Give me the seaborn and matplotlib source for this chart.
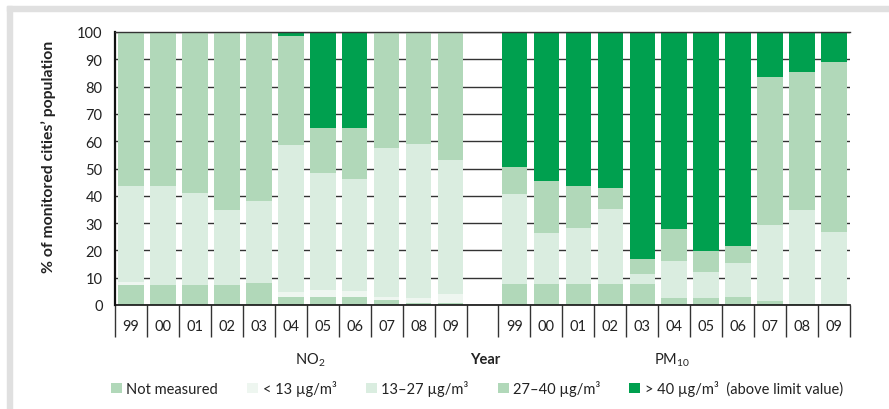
import numpy as np
import pandas as pd
import matplotlib
matplotlib.use("Agg")
import matplotlib.pyplot as plt
import seaborn as sns
from matplotlib.patches import Rectangle, Patch

# ---------------- data ----------------
years = ["99", "00", "01", "02", "03", "04", "05", "06", "07", "08", "09"]
layer_names = ["Not measured", "< 13 µg/m³", "13–27 µg/m³", "27–40 µg/m³",
               "> 40 µg/m³  (above limit value)"]
layer_colors = ["#b1d8b9", "#eef6f0", "#daede0", "#b1d8b9", "#00a04f"]

no2_not_measured = [7.5, 7.5, 7.5, 7.5, 8.0, 2.9, 3.1, 3.1, 1.8, 0.7, 0.7]
no2_lt13 = [1.0, 0.0, 0.0, 0.0, 0.0, 1.9, 2.5, 2.1, 1.2, 1.9, 3.3]
no2_13_27 = [35.0, 36.0, 33.5, 27.3, 30.0, 53.9, 42.9, 41.0, 54.5, 56.4, 49.1]
no2_27_40 = [56.5, 56.5, 59.0, 65.2, 62.0, 39.7, 16.2, 18.5, 42.5, 41.0, 46.9]
no2_gt40 = [0.0, 0.0, 0.0, 0.0, 0.0, 1.6, 35.3, 35.3, 0.0, 0.0, 0.0]

pm10_not_measured = [7.6, 7.6, 7.6, 7.8, 7.8, 2.6, 2.6, 2.9, 1.3, 0.4, 0.2]
pm10_lt13 = [0.0, 0.0, 0.0, 0.0, 0.0, 0.0, 0.0, 0.0, 0.0, 0.0, 0.0]
pm10_13_27 = [32.9, 18.9, 20.7, 27.5, 3.6, 13.4, 9.6, 12.5, 27.9, 34.5, 26.7]
pm10_27_40 = [10.0, 18.9, 15.2, 7.6, 5.4, 11.7, 7.5, 6.1, 54.4, 50.6, 62.1]
pm10_gt40 = [49.5, 54.6, 56.5, 57.1, 83.2, 72.3, 80.3, 78.5, 16.4, 14.5, 11.0]

# ---------------- style ----------------
sns.set_theme(style="white")
plt.rcParams["font.family"] = ["Lato", "DejaVu Sans"]
plt.rcParams["mathtext.fontset"] = "custom"
plt.rcParams["mathtext.rm"] = "Lato"
plt.rcParams["mathtext.it"] = "Lato:italic"
plt.rcParams["mathtext.bf"] = "Lato:bold"
txt = "#222222"

fig = plt.figure(figsize=(8.89, 4.10), dpi=100)
ax = fig.add_axes([115 / 889, 1 - 306 / 410, (850 - 115) / 889, (306 - 33) / 410])

no2_cats = [f"NO2 {y}" for y in years]
pm_cats = [f"PM10 {y}" for y in years]
order = no2_cats + ["gap"] + pm_cats
cats = no2_cats + pm_cats

layers = np.array([
    no2_not_measured + pm10_not_measured,
    no2_lt13 + pm10_lt13,
    no2_13_27 + pm10_13_27,
    no2_27_40 + pm10_27_40,
    no2_gt40 + pm10_gt40,
])
cum = np.cumsum(layers, axis=0)

# draw cumulative totals from top layer downward (stacked look)
for k in reversed(range(len(layer_names))):
    df = pd.DataFrame({"cat": cats, "val": cum[k]})
    sns.barplot(data=df, x="cat", y="val", order=order, color=layer_colors[k],
                saturation=1, width=0.8, linewidth=0, edgecolor="none", ax=ax,
                zorder=2)

ax.set_xlim(-0.5, 22.5)
ax.set_ylim(0, 100)
ax.set_yticks(range(0, 101, 10))
ax.yaxis.grid(True, color="#333333", linewidth=1.0, zorder=0)
ax.xaxis.grid(False)
ax.set_axisbelow(True)

ax.spines["right"].set_visible(False)
ax.spines["left"].set_color("#111111")
ax.spines["left"].set_linewidth(1.6)
ax.spines["bottom"].set_color("#111111")
ax.spines["bottom"].set_linewidth(1.2)
ax.spines["top"].set_color("#333333")
ax.spines["top"].set_linewidth(1.0)

ax.set_xticks(range(23))
ax.set_xticklabels(years + [""] + years, fontsize=10.5, color=txt)
ax.tick_params(axis="x", which="major", length=0, pad=10)
ax.set_xticks(np.arange(-0.5, 23, 1), minor=True)
ax.tick_params(axis="x", which="minor", length=23, width=1.0, color="#333333",
               direction="out", bottom=True)
ax.tick_params(axis="y", length=0, pad=9, labelsize=10.5, labelcolor=txt)

ax.set_xlabel("")
ax.set_ylabel("% of monitored cities’ population", fontsize=11.3,
              fontweight="bold", color=txt)
ax.yaxis.set_label_coords(-(115 - 56) / (850 - 115), 0.545)

# group labels
fig.text(310 / 889, 1 - 360 / 410, "NO$_2$", ha="center", va="center",
         fontsize=10.5, color=txt)
fig.text(485 / 889, 1 - 360 / 410, "Year", ha="center", va="center",
         fontsize=10.5, fontweight="bold", color=txt)
fig.text(672 / 889, 1 - 360 / 410, "PM$_{10}$", ha="center", va="center",
         fontsize=10.5, color=txt)

# legend
handles = [Patch(facecolor=c, edgecolor="none") for c in layer_colors]
leg = fig.legend(handles, layer_names, loc="center", ncol=5,
                 bbox_to_anchor=(477 / 889, 1 - 389 / 410), frameon=False,
                 handlelength=0.75, handleheight=0.75, handletextpad=0.3,
                 columnspacing=2.0, fontsize=10.5)
for t in leg.get_texts():
    t.set_color(txt)

# light grey frame strips
fig.add_artist(Rectangle((7 / 889, 0), 5 / 889, 1 - 7 / 410,
                         transform=fig.transFigure, color="#e0e0e0", zorder=0))
fig.add_artist(Rectangle((7 / 889, 1 - 12 / 410), 1 - 7 / 889, 5 / 410,
                         transform=fig.transFigure, color="#e0e0e0", zorder=0))

fig.savefig("out.png", dpi=100)
